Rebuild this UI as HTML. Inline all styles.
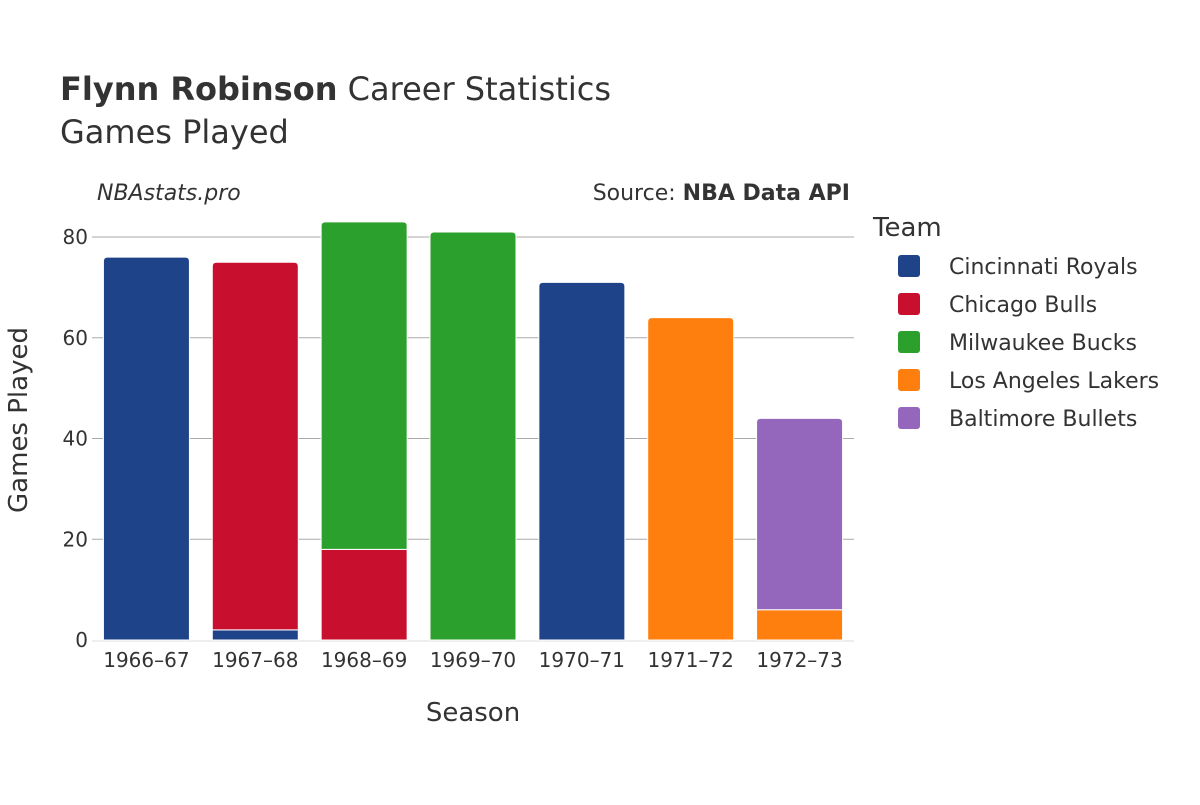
<!DOCTYPE html>
<html><head><meta charset="utf-8"><style>
body{margin:0;background:#fff;}
svg{font-family:"DejaVu Sans","Liberation Sans",sans-serif;}
</style></head><body>
<svg id="chart" width="1200" height="800" xmlns="http://www.w3.org/2000/svg">
<text x="60" y="100" font-size="32" fill="#333"><tspan font-weight="bold">Flynn Robinson</tspan> Career Statistics</text>
<text x="60" y="143" font-size="32" fill="#333">Games Played</text>
<text x="97" y="200" font-size="22" font-style="italic" fill="#333">NBAstats.pro</text>
<text x="850" y="200" font-size="22" fill="#333" text-anchor="end">Source: <tspan font-weight="bold">NBA Data API</tspan></text>
<g id="grid"></g>
<g id="bars"></g>
<g id="xticks"></g>
<text x="473" y="721" font-size="26" fill="#333" text-anchor="middle">Season</text>
<text transform="translate(27,420) rotate(-90)" font-size="26" fill="#333" text-anchor="middle">Games Played</text>
<text x="873" y="236" font-size="26" fill="#333">Team</text>
<g id="legend"></g>
</svg>
<script>
const seasons=["1966–67","1967–68","1968–69","1969–70","1970–71","1971–72","1972–73"];
const teams=["Cincinnati Royals","Chicago Bulls","Milwaukee Bucks","Los Angeles Lakers","Baltimore Bullets"];
const colors=["#1f4388","#c8102e","#2ca02c","#ff7f0e","#9467bd"];
const cincinnati=[76,2,0,0,71,0,0];
const chicago=[0,73,18,0,0,0,0];
const milwaukee=[0,0,65,81,0,0,0];
const lakers=[0,0,0,0,0,64,6];
const baltimore=[0,0,0,0,0,0,38];
const yTicks=[0,20,40,60,80];
const series=[cincinnati,chicago,milwaukee,lakers,baltimore];
const NS="http://www.w3.org/2000/svg";
const x0=92,x1=854,yBase=640,yTop=237,vTop=80;
const y=v=>yBase-(yBase-yTop)*v/vTop;
const band=(x1-x0)/seasons.length;
const xc=i=>x0+band*(i+0.5);
const bw=band*0.79;
function mk(t,a,p){const e=document.createElementNS(NS,t);for(const k in a)e.setAttribute(k,a[k]);p.appendChild(e);return e;}
const grid=document.getElementById('grid');
yTicks.forEach(t=>{
  if(t>0){const l=mk('line',{x1:x0,x2:x1,y1:y(t),y2:y(t),stroke:'#aaa','stroke-width':1},grid);
  
  }
  const tx=mk('text',{x:x0-4,y:y(t)+7,'font-size':20,fill:'#333','text-anchor':'end'},grid);
  tx.textContent=t;
  
  
});
const base=mk('line',{x1:x0,x2:x1,y1:yBase+1,y2:yBase+1,stroke:'#eee','stroke-width':2},grid);


const bars=document.getElementById('bars');
seasons.forEach((s,i)=>{
  let cum=0;
  const total=series.reduce((a,ser)=>a+ser[i],0);
  series.forEach((ser,k)=>{
    const v=ser[i]; if(!v) return;
    const yb=y(cum),yt=y(cum+v),xl=xc(i)-bw/2,h=yb-yt;
    const isTop=(cum+v===total);
    const r=isTop?Math.min(4,h):0;
    const d=`M${xl},${yb}V${yt+r}Q${xl},${yt} ${xl+r},${yt}H${xl+bw-r}Q${xl+bw},${yt} ${xl+bw},${yt+r}V${yb}Z`;
    const p=mk('path',{d:d,fill:colors[k],stroke:'#fff','stroke-width':1},bars);
    
    
    cum+=v;
  });
});
const xt=document.getElementById('xticks');
seasons.forEach((s,i)=>{
  const t=mk('text',{x:xc(i),y:667,'font-size':20,fill:'#333','text-anchor':'middle'},xt);
  t.textContent=s;
  
  
});
const lg=document.getElementById('legend');
teams.forEach((t,k)=>{
  const g=mk('g',{},lg);
  
  
  const yy=266+k*38;
  mk('rect',{x:898,y:yy-11,width:22,height:22,rx:3,fill:colors[k]},g);
  const tx=mk('text',{x:949,y:yy+8,'font-size':22,fill:'#333'},g);
  tx.textContent=t;
});
</script>
</body></html>
